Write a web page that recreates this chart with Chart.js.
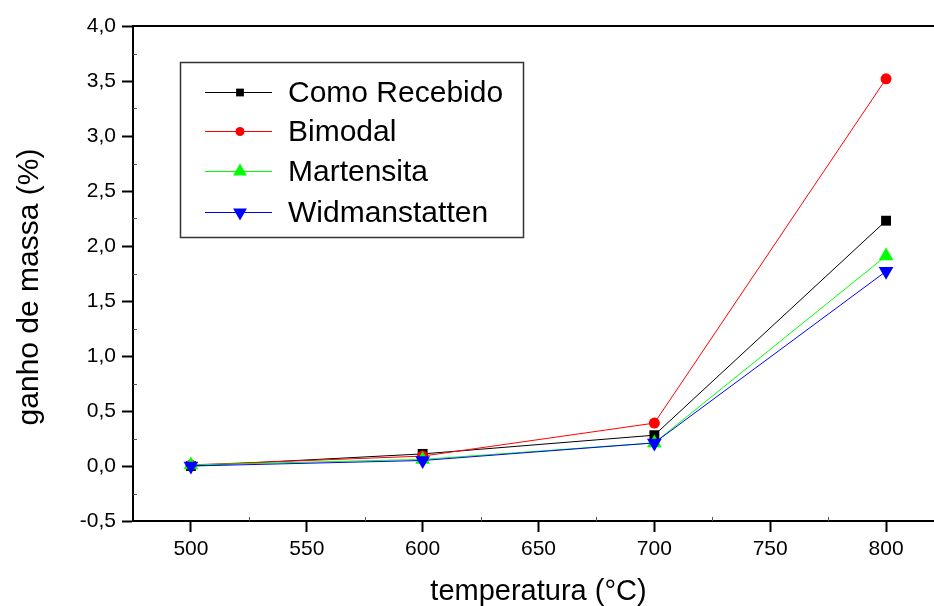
<!DOCTYPE html>
<html>
<head>
<meta charset="utf-8">
<script src="https://cdn.jsdelivr.net/npm/chart.js@4/dist/chart.umd.min.js"></script>
<style>
  html, body { margin: 0; padding: 0; background: #fff; overflow: hidden; }
  #wrap { width: 934px; height: 606px; overflow: hidden; }
</style>
</head>
<body>
<div id="wrap"><canvas id="chart" width="960" height="606"></canvas></div>
<script>
// DATA
let temps = [500, 600, 700, 800];
let comoRecebido = [0.00, 0.11, 0.28, 2.23];
let bimodal = [0.01, 0.09, 0.39, 3.52];
let martensita = [0.01, 0.06, 0.21, 1.91];
let widmanstatten = [0.00, 0.05, 0.21, 1.77];
let xTicks = [500, 550, 600, 650, 700, 750, 800];
let yTicks = [-0.5, 0, 0.5, 1, 1.5, 2, 2.5, 3, 3.5, 4];
let yTitle = "ganho de massa (%)";

let FONT = "'Liberation Sans', Arial, sans-serif";

function pts(ys) {
    return temps.map((t, i) => ({ x: t, y: ys[i] }));
}

function series(label, ys, color, style, radius, rotation, order) {
    return {
        label: label,
        data: pts(ys),
        borderColor: color,
        backgroundColor: color,
        borderWidth: 1,
        pointStyle: style,
        pointRadius: radius,
        pointRotation: rotation,
        pointBorderWidth: 0,
        pointBackgroundColor: color,
        tension: 0,
        order: order
    };
}

// frame top line, minor ticks, y title and the boxed legend
let extras = {
    id: "extras",
    afterDraw(chart) {
        let ctx = chart.ctx;
        let a = chart.chartArea;
        let xs = chart.scales.x, ys = chart.scales.y;
        ctx.save();
        ctx.strokeStyle = "#000";
        ctx.lineWidth = 2;
        ctx.beginPath();
        ctx.moveTo(a.left - 1, a.top);
        ctx.lineTo(a.right, a.top);
        ctx.stroke();

        ctx.lineWidth = 1;
        ctx.strokeStyle = "#555";
        for (let v = -0.25; v < 4; v += 0.5) {
            let py = Math.round(ys.getPixelForValue(v)) + 0.5;
            ctx.beginPath();
            ctx.moveTo(a.left, py);
            ctx.lineTo(a.left + 4, py);
            ctx.stroke();
        }
        for (let v = 525; v < 825; v += 50) {
            let px = Math.round(xs.getPixelForValue(v)) + 0.5;
            ctx.beginPath();
            ctx.moveTo(px, a.bottom);
            ctx.lineTo(px, a.bottom - 4);
            ctx.stroke();
        }

        // y title, a bit lower than the plot centre as in the original
        ctx.save();
        ctx.translate(30, 287);
        ctx.rotate(-Math.PI / 2);
        ctx.font = "30px " + FONT;
        ctx.fillStyle = "#000";
        ctx.textAlign = "center";
        ctx.textBaseline = "middle";
        ctx.fillText(yTitle, 0, 0);
        ctx.restore();

        // legend
        ctx.strokeStyle = "#333";
        ctx.lineWidth = 1.5;
        ctx.strokeRect(180.5, 62.5, 343, 175);
        let rowY = [92, 131, 171, 212];
        let sizes = [5.5, 4.5, 8, 8];
        ctx.font = "30px " + FONT;
        ctx.textBaseline = "middle";
        ctx.textAlign = "left";
        chart.data.datasets.forEach((ds, i) => {
            let y = rowY[i];
            ctx.strokeStyle = ds.borderColor;
            ctx.lineWidth = 1;
            ctx.beginPath();
            ctx.moveTo(205, y + 0.5);
            ctx.lineTo(272, y + 0.5);
            ctx.stroke();
            ctx.fillStyle = ds.borderColor;
            Chart.helpers.drawPoint(ctx, {
                pointStyle: ds.pointStyle,
                radius: sizes[i],
                rotation: ds.pointRotation,
                borderWidth: 0
            }, 240, y + 0.5);
            ctx.fillStyle = "#000";
            ctx.fillText(ds.label, 288, y + 2);
        });
        ctx.restore();
    }
};

let ctx = document.getElementById("chart");

new Chart(ctx, {
    type: "line",
    data: {
        datasets: [
            series("Como Recebido", comoRecebido, "#000000", "rect", 7, 0, 3),
            series("Bimodal", bimodal, "#ff0000", "circle", 5.5, 0, 2),
            series("Martensita", martensita, "#00ff00", "triangle", 8.5, 0, 1),
            series("Widmanstatten", widmanstatten, "#0000ff", "triangle", 8.5, 180, 0)
        ]
    },
    options: {
        responsive: false,
        animation: false,
        layout: { padding: { left: 0, top: 26, right: 16, bottom: 0 } },
        plugins: {
            legend: { display: false },
            tooltip: { enabled: false }
        },
        scales: {
            x: {
                type: "linear",
                min: 475,
                max: 825,
                afterBuildTicks: s => { s.ticks = xTicks.map(v => ({ value: v })); },
                afterFit: s => { s.height = 85; },
                grid: {
                    drawOnChartArea: false,
                    tickLength: 11,
                    tickWidth: 2,
                    tickColor: "#000"
                },
                border: { color: "#000", width: 2 },
                ticks: {
                    color: "#000",
                    padding: 5,
                    font: { family: FONT, size: 21 }
                },
                title: {
                    display: true,
                    text: "temperatura (°C)",
                    color: "#000",
                    font: { family: FONT, size: 29, lineHeight: 1 },
                    padding: { top: 0, bottom: 0 }
                }
            },
            y: {
                min: -0.5,
                max: 4,
                afterBuildTicks: s => { s.ticks = yTicks.map(v => ({ value: v })); },
                afterFit: s => { s.width = 133; },
                grid: {
                    drawOnChartArea: false,
                    tickLength: 11,
                    tickWidth: 2,
                    tickColor: "#000"
                },
                border: { color: "#000", width: 2 },
                ticks: {
                    color: "#000",
                    padding: 6,
                    font: { family: FONT, size: 21 },
                    callback: v => v.toFixed(1).replace(".", ",")
                },
                title: { display: false }
            }
        }
    },
    plugins: [extras]
});
</script>
</body>
</html>
